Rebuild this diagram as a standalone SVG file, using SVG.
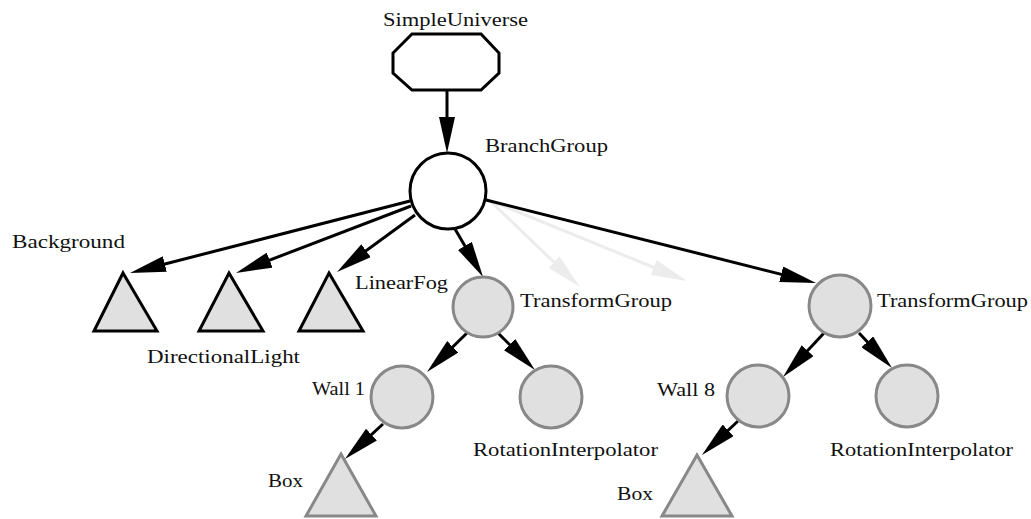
<svg xmlns="http://www.w3.org/2000/svg" width="1031" height="519" viewBox="0 0 1031 519">
<style>
text{font-family:"Liberation Serif","Times New Roman",serif;font-size:19px;fill:#111}
.root{fill:#fff;stroke:#000;stroke-width:3}
.leafB{fill:#e0e0e0;stroke:#000;stroke-width:3}
.grp{fill:#e0e0e0;stroke:#888;stroke-width:3}
.leafG{fill:#e0e0e0;stroke:#888;stroke-width:3}
.e{stroke:#000;stroke-width:3;fill:none;marker-end:url(#ah)}
.el{stroke:#ececec;stroke-width:3;fill:none;marker-end:url(#ahl)}
</style>
<defs>
<marker id="ah" viewBox="0 0 36 16" refX="24" refY="8" markerWidth="36" markerHeight="16" markerUnits="userSpaceOnUse" orient="auto"><path d="M0,0 L36,8 L0,16 z" fill="#000"/></marker>
<marker id="ahl" viewBox="0 0 36 16" refX="24" refY="8" markerWidth="36" markerHeight="16" markerUnits="userSpaceOnUse" orient="auto"><path d="M0,0 L36,8 L0,16 z" fill="#ececec"/></marker>
</defs>
<g id="connectors">
<line class="el" x1="486" y1="197" x2="571.3" y2="278.7"/>
<line class="el" x1="486" y1="199" x2="675.9" y2="276.5"/>
<line class="e" x1="447" y1="90" x2="447" y2="141"/>
<line class="e" x1="410" y1="201" x2="141.6" y2="270"/>
<line class="e" x1="411" y1="206" x2="247.2" y2="268.7"/>
<line class="e" x1="415" y1="215" x2="346.7" y2="264.9"/>
<line class="e" x1="455" y1="229" x2="477" y2="266.6"/>
<line class="e" x1="486" y1="200" x2="804.4" y2="280.1"/>
<line class="e" x1="467" y1="333" x2="435.6" y2="363.6"/>
<line class="e" x1="498" y1="333" x2="526.5" y2="361.5"/>
<line class="e" x1="383" y1="424" x2="353.8" y2="450.9"/>
<line class="e" x1="824" y1="333" x2="791.2" y2="368.2"/>
<line class="e" x1="859" y1="333" x2="883.8" y2="359.3"/>
<line class="e" x1="738" y1="421" x2="710.7" y2="446.8"/>
</g>
<g id="simpleUniverse">
<polygon class="root" points="412,34 481,34 499,53 499,73 481,90 412,90 393,73 393,53"/>
<text x="383" y="26" textLength="145" lengthAdjust="spacingAndGlyphs">SimpleUniverse</text>
</g>
<g id="branchGroup">
<circle class="root" cx="448" cy="191" r="38"/>
<text x="485" y="152" textLength="123" lengthAdjust="spacingAndGlyphs">BranchGroup</text>
</g>
<g id="background">
<polygon class="leafB" points="123,273 157,331 94,331"/>
<text x="12" y="248" textLength="113" lengthAdjust="spacingAndGlyphs">Background</text>
</g>
<g id="directionalLight">
<polygon class="leafB" points="229,273 263,331 199,331"/>
<text x="147" y="363" textLength="153" lengthAdjust="spacingAndGlyphs">DirectionalLight</text>
</g>
<g id="linearFog">
<polygon class="leafB" points="329,273 363,331 299,331"/>
<text x="355" y="289" textLength="93" lengthAdjust="spacingAndGlyphs">LinearFog</text>
</g>
<g id="transformGroup1">
<circle class="grp" cx="483" cy="307" r="30"/>
<text x="520" y="307" textLength="152" lengthAdjust="spacingAndGlyphs">TransformGroup</text>
</g>
<g id="transformGroup2">
<circle class="grp" cx="840" cy="306" r="31"/>
<text x="877" y="307" textLength="151" lengthAdjust="spacingAndGlyphs">TransformGroup</text>
</g>
<g id="wall1">
<circle class="grp" cx="402" cy="397" r="31"/>
<text x="312" y="395" textLength="53" lengthAdjust="spacingAndGlyphs">Wall 1</text>
</g>
<g id="rotationInterpolator1">
<circle class="grp" cx="551" cy="397" r="31"/>
<text x="473" y="456" textLength="185" lengthAdjust="spacingAndGlyphs">RotationInterpolator</text>
</g>
<g id="box1">
<polygon class="leafG" points="341,454 376,516 306,516"/>
<text x="268" y="487" textLength="35" lengthAdjust="spacingAndGlyphs">Box</text>
</g>
<g id="wall8">
<circle class="grp" cx="758" cy="396" r="31"/>
<text x="657" y="396" textLength="58" lengthAdjust="spacingAndGlyphs">Wall 8</text>
</g>
<g id="rotationInterpolator2">
<circle class="grp" cx="907" cy="396" r="31"/>
<text x="830" y="456" textLength="183" lengthAdjust="spacingAndGlyphs">RotationInterpolator</text>
</g>
<g id="box2">
<polygon class="leafG" points="697,455 732,516 662,516"/>
<text x="617" y="500" textLength="36" lengthAdjust="spacingAndGlyphs">Box</text>
</g>
</svg>
